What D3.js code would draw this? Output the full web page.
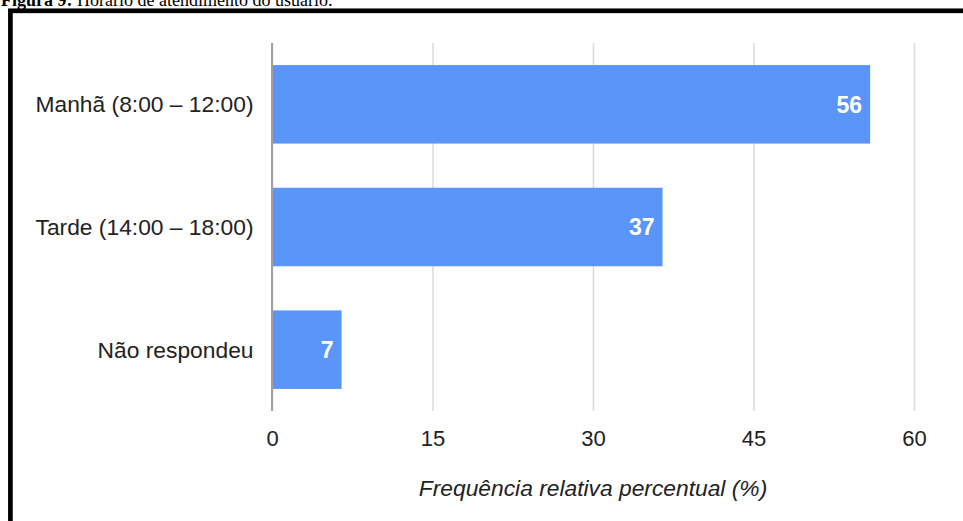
<!DOCTYPE html>
<html>
<head>
<meta charset="utf-8">
<script src="https://cdn.jsdelivr.net/npm/d3@7"></script>
<style>
  html, body { margin: 0; padding: 0; background: #fff; overflow: hidden; }
  svg { display: block; }
</style>
</head>
<body>
<svg id="chart"></svg>
<script>
// data
const categories = ['Manhã (8:00 – 12:00)', 'Tarde (14:00 – 18:00)', 'Não respondeu'];
const values = [55.9, 36.5, 6.5];
const tickValues = [0, 15, 30, 45, 60];
const caption = ['Figura 9:', ' Horário de atendimento do usuário.'];
const axisTitle = 'Frequência relativa percentual (%)';

const width = 963;
const height = 521;
const plot = {left: 272, right: 914, top: 43, bottom: 411};
const font = '"Liberation Sans", Arial, sans-serif';

const svg = d3.select('svg#chart')
  .attr('width', width)
  .attr('height', height);

// caption, cut off at the top of the page (as in the source)
const cap = svg.append('text')
  .attr('x', 1)
  .attr('y', 5.5)
  .attr('font-family', '"Liberation Serif", "Times New Roman", serif')
  .attr('font-size', '18px')
  .attr('fill', '#000');
cap.append('tspan').attr('font-weight', 'bold').text(caption[0]);
cap.append('tspan').text(caption[1]);

// black frame around the chart
svg.append('rect')
  .attr('x', 10.4)
  .attr('y', 10.8)
  .attr('width', 1000)
  .attr('height', 600)
  .attr('fill', 'none')
  .attr('stroke', '#000')
  .attr('stroke-width', 4.7);

const x = d3.scaleLinear()
  .domain([0, 60])
  .range([plot.left, plot.right]);

const y = d3.scaleBand()
  .domain(categories)
  .range([plot.top, plot.bottom])
  .paddingInner(0.36)
  .paddingOuter(0.18);

// gridlines + tick labels
const xAxis = svg.append('g')
  .attr('transform', 'translate(0,' + plot.bottom + ')')
  .call(d3.axisBottom(x)
    .tickValues(tickValues)
    .tickSize(-(plot.bottom - plot.top))
    .tickPadding(19)
    .tickFormat(d3.format('d')));

xAxis.select('.domain').remove();
xAxis.selectAll('line')
  .attr('stroke', '#dcdcdc')
  .attr('stroke-width', 1.6);
xAxis.selectAll('text')
  .attr('font-family', font)
  .attr('font-size', '22px')
  .attr('fill', '#222');

// bars
svg.selectAll('rect.bar')
  .data(values)
  .enter()
  .append('rect')
  .attr('class', 'bar')
  .attr('x', x(0))
  .attr('y', (d, i) => y(categories[i]))
  .attr('width', d => x(d) - x(0))
  .attr('height', y.bandwidth())
  .attr('fill', '#5b95f9');

// zero baseline
svg.append('line')
  .attr('x1', x(0))
  .attr('x2', x(0))
  .attr('y1', plot.top)
  .attr('y2', plot.bottom)
  .attr('stroke', '#a0a0a0')
  .attr('stroke-width', 2);

// value labels inside the bars
svg.selectAll('text.value')
  .data(values)
  .enter()
  .append('text')
  .attr('class', 'value')
  .attr('x', d => x(d) - 8)
  .attr('y', (d, i) => y(categories[i]) + y.bandwidth() / 2)
  .attr('dy', '0.36em')
  .attr('text-anchor', 'end')
  .attr('font-family', font)
  .attr('font-size', '23px')
  .attr('font-weight', 'bold')
  .attr('fill', '#fff')
  .text(d => Math.round(d));

// category labels
svg.selectAll('text.cat')
  .data(categories)
  .enter()
  .append('text')
  .attr('class', 'cat')
  .attr('x', plot.left - 18.5)
  .attr('y', d => y(d) + y.bandwidth() / 2)
  .attr('dy', '0.35em')
  .attr('text-anchor', 'end')
  .attr('font-family', font)
  .attr('font-size', '22.8px')
  .attr('fill', '#222')
  .text(d => d);

// axis title
svg.append('text')
  .attr('x', (plot.left + plot.right) / 2)
  .attr('y', 496)
  .attr('text-anchor', 'middle')
  .attr('font-family', font)
  .attr('font-size', '22.8px')
  .attr('font-style', 'italic')
  .attr('fill', '#222')
  .text(axisTitle);
</script>
</body>
</html>
